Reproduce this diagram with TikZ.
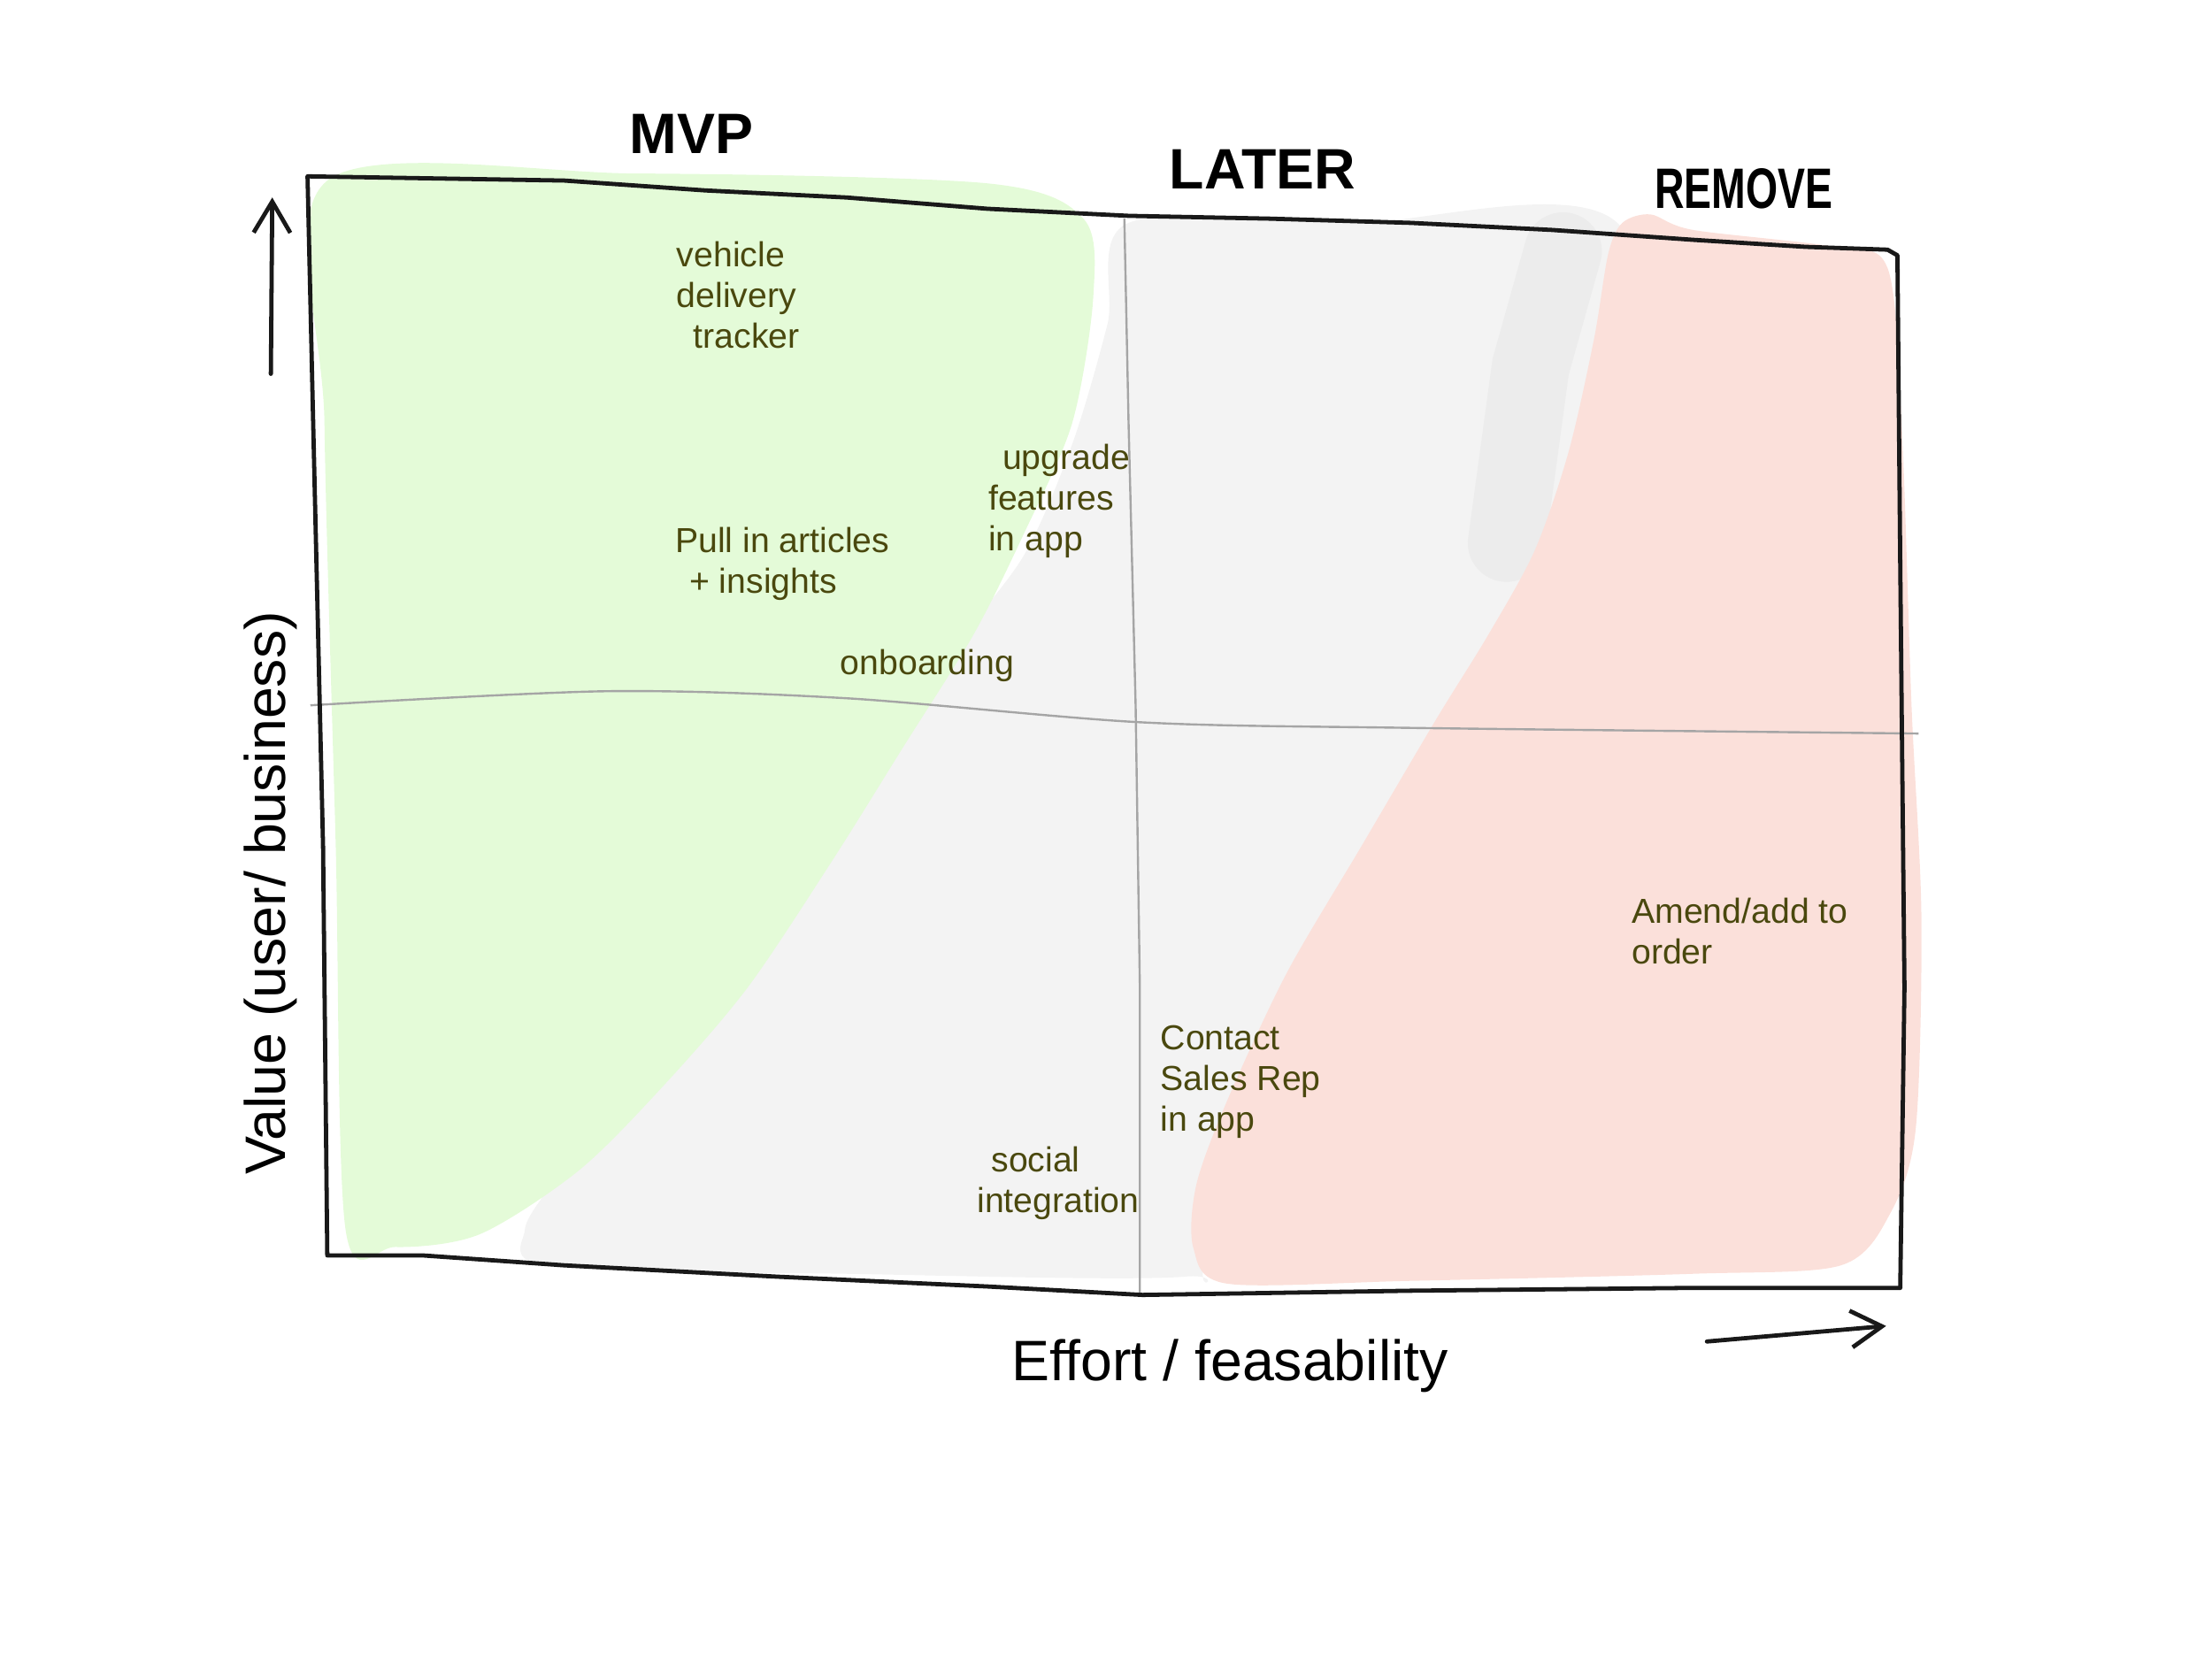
\documentclass[tikz,border=0pt]{standalone}
\usepackage{fontspec}
\setmainfont{Liberation Sans}
\usetikzlibrary{arrows.meta}
\definecolor{mvpgreen}{RGB}{228,251,216}
\definecolor{latergrey}{RGB}{243,243,243}
\definecolor{blobgrey}{RGB}{236,236,236}
\definecolor{removered}{RGB}{251,224,218}
\definecolor{ink}{RGB}{74,72,14}
\definecolor{divider}{RGB}{165,165,165}
\tikzset{
  heading/.style={font=\fontsize{11.5}{13}\selectfont\bfseries, text=black, inner sep=0pt},
  item/.style={font=\fontsize{7}{8.2}\selectfont, text=ink, align=left, inner sep=0pt, anchor=west},
  axislabel/.style={font=\fontsize{11.5}{13}\selectfont, text=black, inner sep=0pt},
  framestroke/.style={line width=0.3mm, draw=black!90, line join=round},
  dividerline/.style={line width=0.15mm, draw=divider},
  axisarrow/.style={line width=0.3mm, draw=black!90, line cap=round, -{Straight Barb[length=2.2mm, width=2.6mm, line width=0.3mm]}}
}
\begin{document}
\begin{tikzpicture}[x=0.1mm, y=-0.1mm]
\useasboundingbox (0,0) rectangle (1568,1175.3);

% grey (LATER) zone
\fill[latergrey] plot[smooth cycle, tension=0.5] coordinates {
  (800,158) (960,158) (1150,162) (1150,420) (1000,560) (860,880) (840,905)
  (600,903) (390,898) (372,872) (395,835) (450,770) (510,690) (565,610)
  (620,530) (670,465) (725,395) (760,315) (785,230)};
% darker grey stroke
\draw[blobgrey, line width=5.5mm, line cap=round] (1068,385) -- (1085,260) -- (1108,178);

% green (MVP) zone
\fill[mvpgreen] plot[smooth cycle, tension=0.5] coordinates {
  (232,128) (450,123) (700,130) (768,155) (775,210) (760,300) (725,380)
  (690,450) (640,530) (590,610) (530,700) (470,770) (410,830) (340,875)
  (280,884) (245,872) (238,600) (230,300)};

% red (REMOVE) zone
\fill[removered] plot[smooth cycle, tension=0.5] coordinates {
  (1150,158) (1170,152) (1200,163) (1300,175) (1338,190) (1348,300) (1355,500)
  (1362,650) (1358,800) (1340,860) (1305,897) (1200,903) (1000,908)
  (870,910) (846,885) (848,840) (870,780) (912,690) (965,600) (1018,510)
  (1055,450) (1088,390) (1112,320) (1130,240) (1140,180)};

% quadrant dividers
\draw[dividerline] (797,155) -- (800,300) -- (805,500) -- (808,700) -- (808,918);
\draw[dividerline] plot[smooth, tension=0.5] coordinates {(220,500) (430,490) (600,495) (808,512) (1000,516) (1360,520)};

% frame
\draw[framestroke] (218,125) -- (400,128) -- (500,135) -- (600,140) -- (700,148)
  -- (800,153) -- (900,155) -- (1000,158) -- (1100,163) -- (1200,170) -- (1280,175)
  -- (1338,177) -- (1345,181) -- (1347,400) -- (1350,700) -- (1347,913)
  -- (1200,913) -- (1000,915) -- (810,918) -- (700,912) -- (550,905) -- (400,897)
  -- (300,890) -- (232,890) -- (229,600) -- (222,300) -- cycle;

% headings
\node[heading] (mvp) at (490,95) {MVP};
\node[heading] (later) at (895,120) {LATER};
\node[heading, xscale=0.72] (remove) at (1236,134) {REMOVE};

% items
\node[item] (vehicle) at (479,209) {vehicle\\delivery\\\hspace{1.2mm}tracker};
\node[item] (upgrade) at (700,355) {\hspace{1mm}upgrade\\features\\in app};
\node[item] (pull) at (478,400) {Pull in articles\\\hspace{1mm}+ insights};
\node[item] (onboard) at (595,472) {onboarding};
\node[item] (contact) at (822,767) {Contact\\Sales Rep\\in app};
\node[item] (social) at (692,839) {\hspace{1mm}social\\integration};
\node[item] (amend) at (1156,660) {Amend/add to\\order};

% axis labels
\node[axislabel, rotate=90] (value) at (192,633) {Value (user/ business)};
\node[axislabel] (effort) at (872,968) {Effort / feasability};

% axis arrows
\coordinate (upS) at (192,265);
\coordinate (upE) at (193,140);
\coordinate (rtS) at (1210,951);
\coordinate (rtE) at (1337,940);
\draw[axisarrow] (upS) -- (upE);
\draw[axisarrow] (rtS) -- (rtE);
\end{tikzpicture}
\end{document}
